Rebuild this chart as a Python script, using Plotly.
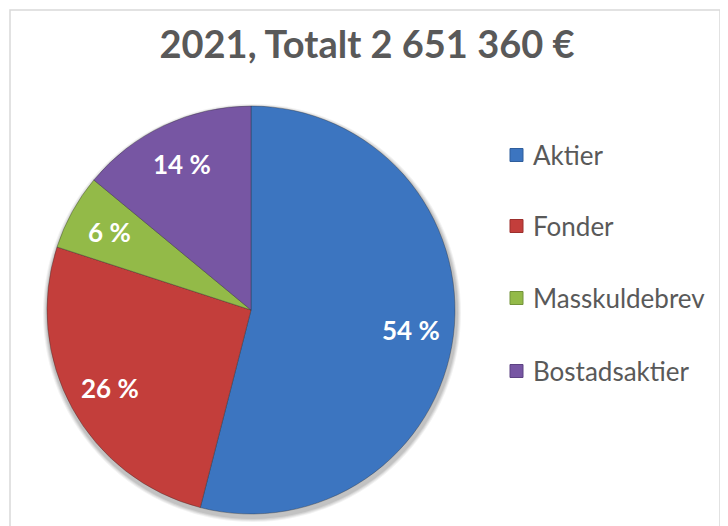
import math
import plotly.graph_objects as go

# ---- data ----
labels = ["Aktier", "Fonder", "Masskuldebrev", "Bostadsaktier"]
values = [54, 26, 6, 14]
title_text = "2021, Totalt 2 651 360 €"

colors = ["#3C75C0", "#C33E3B", "#93BA48", "#7756A3"]
edge_colors = ["#2F5E9C", "#9C2F2D", "#73933A", "#5D4283"]

W, H = 728, 526
OFF = 8  # default page body margin in the browser


def px(x):
    return (x - OFF) / W


def py(y):
    return 1 - (y - OFF) / H


# pie geometry (page pixels)
cx, cy, R = 251, 310, 204

fig = go.Figure()
fig.add_trace(go.Pie(
    labels=labels,
    values=values,
    textinfo="none",
    sort=False,
    direction="clockwise",
    rotation=0,
    marker=dict(colors=colors, line=dict(color="rgba(40,40,40,0.35)", width=1)),
    domain=dict(x=[px(cx - R), px(cx + R)], y=[py(cy + R), py(cy - R)]),
    showlegend=False,
    hoverinfo="label+percent",
))

annotations = []
# percentage labels placed along each slice's mid-angle
total = sum(values)
cum = 0
for v in values:
    a = math.radians((cum + v / 2) / total * 360)
    cum += v
    r = 0.79 * R
    annotations.append(dict(text=f"<b>{v} %</b>", xref="paper", yref="paper",
                            x=px(cx + r * math.sin(a)), y=py(cy - r * math.cos(a)),
                            xanchor="center", yanchor="middle", showarrow=False,
                            font=dict(family="Lato", size=26, color="white")))

shapes = [dict(type="rect", xref="paper", yref="paper",
               x0=px(10), x1=px(720), y0=-0.05, y1=py(10),
               line=dict(color="#D9D9D9", width=1.5), fillcolor="rgba(0,0,0,0)")]
# soft drop shadow under the pie
for k, op in [(5, 0.05), (4, 0.06), (3, 0.07), (2, 0.08)]:
    shapes.append(dict(type="circle", xref="paper", yref="paper", layer="below",
                       x0=px(cx - R - k + 1), x1=px(cx + R + k + 1),
                       y0=py(cy + R + k + 3), y1=py(cy - R - k + 3),
                       fillcolor=f"rgba(0,0,0,{op})", line=dict(width=0)))
leg_y = [155, 226, 298, 371]
for lab, c, ec, yy in zip(labels, colors, edge_colors, leg_y):
    shapes.append(dict(type="rect", xref="paper", yref="paper",
                       x0=px(510), x1=px(523), y0=py(yy + 6.5), y1=py(yy - 6.5),
                       fillcolor=c, line=dict(color=ec, width=1)))
    annotations.append(dict(text=lab, xref="paper", yref="paper", x=px(531), y=py(yy),
                            xanchor="left", yanchor="middle", showarrow=False,
                            font=dict(family="Lato", size=26, color="#595959")))

fig.update_layout(
    width=W, height=H,
    margin=dict(l=0, r=0, t=0, b=0),
    paper_bgcolor="white", plot_bgcolor="white",
    title=dict(text=title_text, x=px(367), xanchor="center", y=py(45), yanchor="middle",
               font=dict(family="Lato", size=38, color="#595959", weight="bold")),
    shapes=shapes,
    annotations=annotations,
)

fig.write_html("out.html")
